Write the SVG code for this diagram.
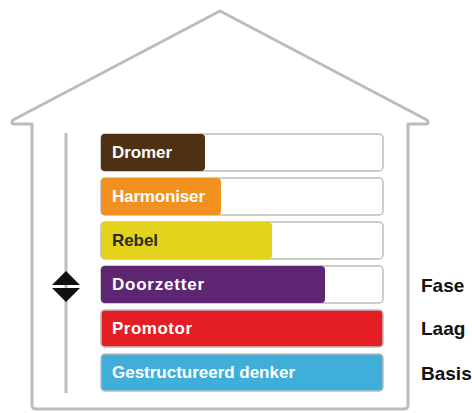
<svg xmlns="http://www.w3.org/2000/svg" width="472" height="413" viewBox="0 0 472 413">
<style>
.house{fill:none;stroke:#bcbcbc;stroke-width:3;stroke-linejoin:round;stroke-linecap:round}
.frame{fill:#fff;stroke:#bdbdbd;stroke-width:1.5}
.lbl{font-family:"Liberation Sans",Arial,sans-serif;font-weight:bold;font-size:17px;fill:#fff}
.side{font-family:"Liberation Sans",Arial,sans-serif;font-weight:bold;font-size:19px;fill:#111}
</style>
<rect width="472" height="413" fill="#fff"/>
<path class="house" d="M32,405 L32,124 L14,124 Q10,124 13,120 L220,11 L427,120 Q430,124 426,124 L408,124 L408,405 Q408,409 404,409 L36,409 Q32,409 32,405 Z"/>
<g id="scale">
<line x1="66" y1="133" x2="66" y2="393" stroke="#bcbcbc" stroke-width="3"/>
<polygon points="66,271 52,285 80,285" fill="#111"/>
<polygon points="52,288 80,288 66,302" fill="#111"/>
</g>
<g id="dromer">
<rect class="frame" x="101" y="134" width="282" height="37" rx="4"/>
<rect x="101" y="134" width="104" height="37" rx="4" fill="#4e3015"/>
<text class="lbl" x="112" y="158" textLength="60">Dromer</text>
</g>
<g id="harmoniser">
<rect class="frame" x="101" y="178" width="282" height="37" rx="4"/>
<rect x="101" y="178" width="120" height="37" rx="4" fill="#f39120"/>
<text class="lbl" x="112" y="202" textLength="93">Harmoniser</text>
</g>
<g id="rebel">
<rect class="frame" x="101" y="222" width="282" height="37" rx="4"/>
<rect x="101" y="222" width="171" height="37" rx="4" fill="#e3d31c"/>
<text class="lbl" x="112" y="246" textLength="46" style="fill:#2a2a1e">Rebel</text>
</g>
<g id="doorzetter">
<rect class="frame" x="101" y="266" width="282" height="37" rx="4"/>
<rect x="101" y="266" width="224" height="37" rx="4" fill="#5e2672"/>
<text class="lbl" x="112" y="290" textLength="92">Doorzetter</text>
</g>
<g id="promotor">
<rect class="frame" x="101" y="310" width="282" height="37" rx="4" style="fill:#e31e25"/>
<text class="lbl" x="112" y="334" textLength="80">Promotor</text>
</g>
<g id="gestructureerd">
<rect class="frame" x="101" y="354" width="282" height="37" rx="4" style="fill:#3fafd9"/>
<text class="lbl" x="112" y="378" textLength="183">Gestructureerd denker</text>
</g>
<g id="labels">
<text class="side" x="421" y="292">Fase</text>
<text class="side" x="421" y="335">Laag</text>
<text class="side" x="421" y="380">Basis</text>
</g>
</svg>
